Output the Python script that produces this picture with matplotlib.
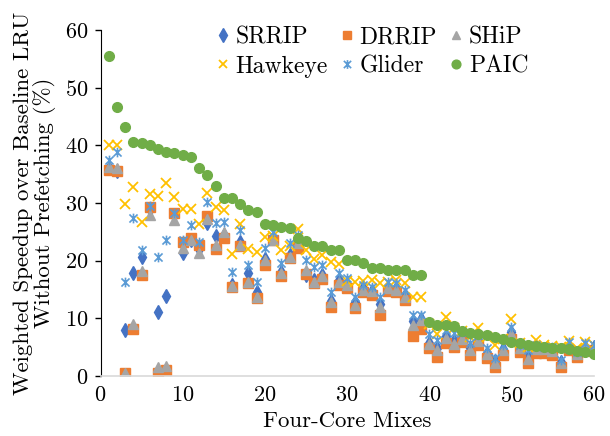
import matplotlib
matplotlib.use("Agg")
import matplotlib.pyplot as plt
from matplotlib.path import Path

plt.rcParams['font.family'] = 'cmr10'
plt.rcParams['axes.formatter.use_mathtext'] = True

mixes = list(range(1, 61))

srrip = [36, 35.5, 8.0, 17.8, 20.6, 29, 11.1, 13.9, 28, 21.3,
         23.5, 22, 26.5, 24.3, 24.5, 15.8, 23.2, 17.8, 14.6, 20.3,
         24, 18, 21, 23.2, 17.5, 16.6, 17.5, 13, 16.6, 15.7,
         12.8, 15.2, 14.8, 12.5, 15.2, 15.2, 14, 9.5, 9.8, 5.8,
         4.8, 7, 6.0, 6.8, 4.8, 6.3, 4, 2.6, 4.7, 7.6,
         5, 3.3, 4.8, 4.6, 4.5, 2.4, 5.2, 3.9, 5.1, 5]
drrip = [35.8, 35.5, 0.5, 8.2, 17.6, 29.3, 0.5, 1.0, 28.2, 23.3,
         24.0, 22.8, 27.7, 22.0, 24.0, 15.4, 22.5, 16.1, 13.5, 19.2,
         23.5, 17.4, 20.4, 22.2, 17.7, 16.2, 16.9, 12.0, 15.7, 15.2,
         11.8, 14.5, 14.0, 10.6, 14.8, 14.5, 13.1, 7.0, 8.2, 4.8,
         3.3, 5.7, 5.0, 5.9, 3.6, 5.4, 3.1, 1.5, 3.6, 6.5,
         4.2, 2.3, 4.0, 4.0, 3.6, 1.5, 4.5, 3.3, 4.5, 4.3]
ship = [36.2, 36, 0.6, 9.0, 18.2, 27.9, 1.5, 1.7, 27.0, 22.2,
        23.6, 21.3, 27.3, 22.7, 25.0, 15.6, 22.7, 16.3, 13.7, 20.1,
        23.6, 17.8, 20.6, 23.0, 18.4, 16.3, 17.3, 12.8, 16.3, 15.8,
        12.3, 14.9, 14.7, 12.0, 15.2, 14.9, 13.7, 8.8, 9.7, 5.5,
        4.5, 6.6, 5.6, 6.5, 4.5, 6.0, 3.8, 2.3, 4.5, 7.3,
        4.8, 3.0, 4.6, 4.6, 4.3, 2.2, 5.1, 3.9, 5.0, 4.9]
hawkeye = [40, 40, 29.8, 32.8, 26.7, 31.5, 31.2, 33.4, 31, 28.9,
           28.9, 26.3, 31.7, 29.3, 28.8, 21.1, 26.3, 22, 21.5, 24.1,
           24.3, 21.8, 22.5, 25.5, 21.8, 20.3, 21, 19.8, 19.5, 16.5,
           16.3, 16.5, 16.6, 16.1, 16.3, 16.6, 16.2, 13.7, 13.7, 9.0,
           7.2, 10.3, 8.4, 7.8, 6.8, 8.3, 6.8, 5.4, 6.5, 9.8,
           5.8, 5.0, 6.2, 5.3, 5.2, 5.0, 6.1, 4.9, 5.9, 5.4]
glider = [37.4, 38.8, 16.3, 27.4, 21.8, 29.5, 20.6, 23.6, 28.2, 23.6,
          26.2, 23.2, 30.2, 26.5, 26.7, 18, 25.3, 19.2, 16.3, 22.2,
          25, 19.6, 23, 24.4, 20.1, 18.9, 19.2, 14.6, 17.8, 17,
          13.7, 15.8, 15.4, 13.7, 16.3, 16.1, 14.9, 10.6, 10.6, 7.2,
          6.2, 8, 7.4, 7.7, 5.7, 7.1, 4.8, 3.1, 5.4, 8.5,
          5.4, 4.5, 5.4, 5.0, 5.0, 2.8, 5.9, 4.2, 5.7, 5.4]
paic = [55.5, 46.6, 43.2, 40.5, 40.4, 40, 39.3, 38.8, 38.6, 38.3,
        38, 36, 34.8, 33, 30.9, 30.8, 29.8, 28.8, 28.4, 26.3,
        26.2, 25.8, 25.6, 23.9, 23.4, 22.6, 22.6, 21.8, 21.8, 20.2,
        20.2, 19.6, 18.7, 18.7, 18.4, 18.4, 18.4, 17.5, 17.5, 9.3,
        8.8, 8.8, 8.7, 7.8, 7.4, 7.3, 7.1, 6.8, 6.4, 5.9,
        5.7, 5.4, 5.2, 5.0, 4.8, 4.8, 4.6, 4.4, 4.2, 3.9]

# Excel-style "star" marker: an x with a vertical stroke through it
star = Path([(-1, -1), (1, 1), (-1, 1), (1, -1), (0, -1.2), (0, 1.2)],
            [Path.MOVETO, Path.LINETO] * 3)

fig = plt.figure(figsize=(6.1, 4.36), dpi=100)
ax = fig.add_axes([0.1648, 0.1376, 0.8082, 0.7936])

h_srrip, = ax.plot(mixes, srrip, 'd', color='#4472C4', ms=7.5, label='SRRIP')
h_drrip, = ax.plot(mixes, drrip, 's', color='#ED7D31', ms=6.5, label='DRRIP')
h_ship, = ax.plot(mixes, ship, '^', color='#A5A5A5', ms=7, label='SHiP')
h_hawk, = ax.plot(mixes, hawkeye, 'x', color='#FFC000', ms=7, mew=1.3,
                  label='Hawkeye')
h_glider, = ax.plot(mixes, glider, marker=star, ls='none',
                    color='#5B9BD5', ms=7, mew=1.2, label='Glider')
h_paic, = ax.plot(mixes, paic, 'o', color='#70AD47', ms=7, label='PAIC')

ax.set_xlim(0, 60)
ax.set_ylim(0, 60)
ax.set_xticks(range(0, 61, 10))
ax.set_yticks(range(0, 61, 10))
ax.tick_params(axis='x', length=0, labelsize=16, pad=7)
ax.tick_params(axis='y', length=4, width=1, labelsize=16, pad=5)

for side in ['top', 'right']:
    ax.spines[side].set_visible(False)
ax.spines['left'].set_color('black')
ax.spines['bottom'].set_color('#D9D9D9')
ax.spines['bottom'].set_linewidth(1.2)

ax.set_xlabel('Four-Core Mixes', fontsize=16.5, labelpad=4)
ax.set_ylabel('Weighted Speedup over Baseline LRU\nWithout Prefetching (%)',
              fontsize=16.5, labelpad=6, linespacing=1.0)

# legend is filled column by column, so interleave to get row order
handles = [h_srrip, h_hawk, h_drrip, h_glider, h_ship, h_paic]
ax.legend(handles=handles, ncol=3, loc='upper left',
          bbox_to_anchor=(0.19, 1.072), frameon=False, fontsize=17,
          handlelength=0.6, handletextpad=0.25, columnspacing=0.5,
          labelspacing=0.3, markerscale=0.9)

fig.savefig('out.png', dpi=100)
